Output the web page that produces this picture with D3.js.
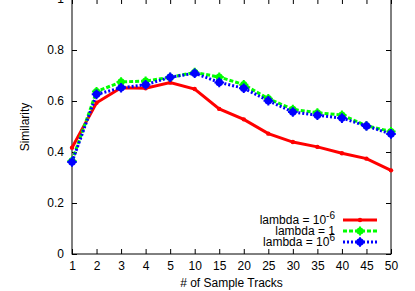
<!DOCTYPE html>
<html>
<head>
<meta charset="utf-8">
<script src="https://cdn.jsdelivr.net/npm/d3@7"></script>
<style>
  body { margin: 0; background: #fff; }
  text { font-family: "Liberation Sans", Arial, sans-serif; font-size: 12px; fill: #000; }
</style>
</head>
<body>
<div id="chart"></div>
<script>
// sample track counts on the x axis
var tracks = ["1", "2", "3", "4", "5", "10", "15", "20", "25", "30", "35", "40", "45", "50"];
var yTicks = [0, 0.2, 0.4, 0.6, 0.8, 1];

// similarity per lambda setting
var lambdaSmall = [0.417, 0.593, 0.652, 0.650, 0.672, 0.647, 0.569, 0.528, 0.472, 0.439, 0.420, 0.395, 0.374, 0.328];
var lambdaOne   = [0.365, 0.637, 0.675, 0.678, 0.693, 0.712, 0.694, 0.664, 0.609, 0.567, 0.554, 0.545, 0.503, 0.480];
var lambdaBig   = [0.361, 0.626, 0.652, 0.664, 0.693, 0.709, 0.673, 0.650, 0.601, 0.557, 0.544, 0.533, 0.502, 0.471];

var W = 415, H = 291;
var mLeft = 72, mRight = 391, mTop = -1, mBottom = 254;

var svg = d3.select("#chart").append("svg")
    .attr("width", W)
    .attr("height", H);

var x = d3.scalePoint().domain(tracks).range([mLeft, mRight]);
var y = d3.scaleLinear().domain([0, 1]).range([mBottom, mTop]);

// frame
svg.append("rect")
    .attr("x", mLeft).attr("y", mTop)
    .attr("width", mRight - mLeft).attr("height", mBottom - mTop)
    .attr("fill", "none").attr("stroke", "#000").attr("stroke-width", 1);

// axes with inward ticks, mirrored
var axB = d3.axisBottom(x).tickSize(-5).tickPadding(7);
var axT = d3.axisTop(x).tickSize(-5).tickFormat("");
var axL = d3.axisLeft(y).tickValues(yTicks).tickSize(-5).tickPadding(8)
    .tickFormat(function (d) { return d === 0 || d === 1 ? d3.format("d")(d) : d3.format(".1f")(d); });
var axR = d3.axisRight(y).tickValues(yTicks).tickSize(-5).tickFormat("");

[[axB, "translate(0," + mBottom + ")"], [axT, "translate(0," + mTop + ")"],
 [axL, "translate(" + mLeft + ",0)"], [axR, "translate(" + mRight + ",0)"]].forEach(function (a) {
    var g = svg.append("g").attr("transform", a[1]).call(a[0]);
    g.select(".domain").remove();
    g.selectAll("line").attr("stroke", "#000");
    g.selectAll("text").style("font-family", "Liberation Sans, Arial, sans-serif").style("font-size", "12px");
});

// axis titles
svg.append("text")
    .attr("x", (mLeft + mRight) / 2).attr("y", 287)
    .attr("text-anchor", "middle")
    .text("# of Sample Tracks");
svg.append("text")
    .attr("transform", "translate(29," + 127 + ") rotate(-90)")
    .attr("text-anchor", "middle")
    .text("Similarity");

var series = [
    { vals: lambdaSmall, color: "#ff0000", dash: null, r: 2.2, label: ["lambda = 10", "-6"] },
    { vals: lambdaOne,   color: "#00ff00", dash: "4,2", r: 3.6, label: ["lambda = 1", ""] },
    { vals: lambdaBig,   color: "#0000ff", dash: "2,2", r: 3.8, label: ["lambda = 10", "6"] }
];

var line = d3.line()
    .x(function (d, i) { return x(tracks[i]); })
    .y(function (d) { return y(d); });

function marker(g, cx, cy, s) {
    g.append("circle").attr("cx", cx).attr("cy", cy).attr("r", s.r).attr("fill", s.color);
    if (s.r > 3) {
        g.append("path")
            .attr("d", "M" + (cx - s.r - 1) + "," + cy + "h" + (2 * s.r + 2) + "M" + cx + "," + (cy - s.r - 1) + "v" + (2 * s.r + 2))
            .attr("stroke", s.color).attr("stroke-width", 2);
    }
}

series.forEach(function (s) {
    svg.append("path")
        .attr("d", line(s.vals))
        .attr("fill", "none")
        .attr("stroke", s.color)
        .attr("stroke-width", 3)
        .attr("stroke-dasharray", s.dash);
    var g = svg.append("g");
    s.vals.forEach(function (v, i) { marker(g, x(tracks[i]), y(v), s); });
});

// legend
var legY = [220, 231, 242];
series.forEach(function (s, k) {
    var ly = legY[k];
    var t = svg.append("text")
        .attr("x", 335).attr("y", ly + 4)
        .attr("text-anchor", "end");
    t.append("tspan").text(s.label[0]);
    if (s.label[1]) {
        t.append("tspan").attr("dy", -5).style("font-size", "10px").text(s.label[1]);
    }
    svg.append("line")
        .attr("x1", 343).attr("x2", 377).attr("y1", ly).attr("y2", ly)
        .attr("stroke", s.color).attr("stroke-width", 3)
        .attr("stroke-dasharray", s.dash);
    marker(svg, 360, ly, s);
});
</script>
</body>
</html>
